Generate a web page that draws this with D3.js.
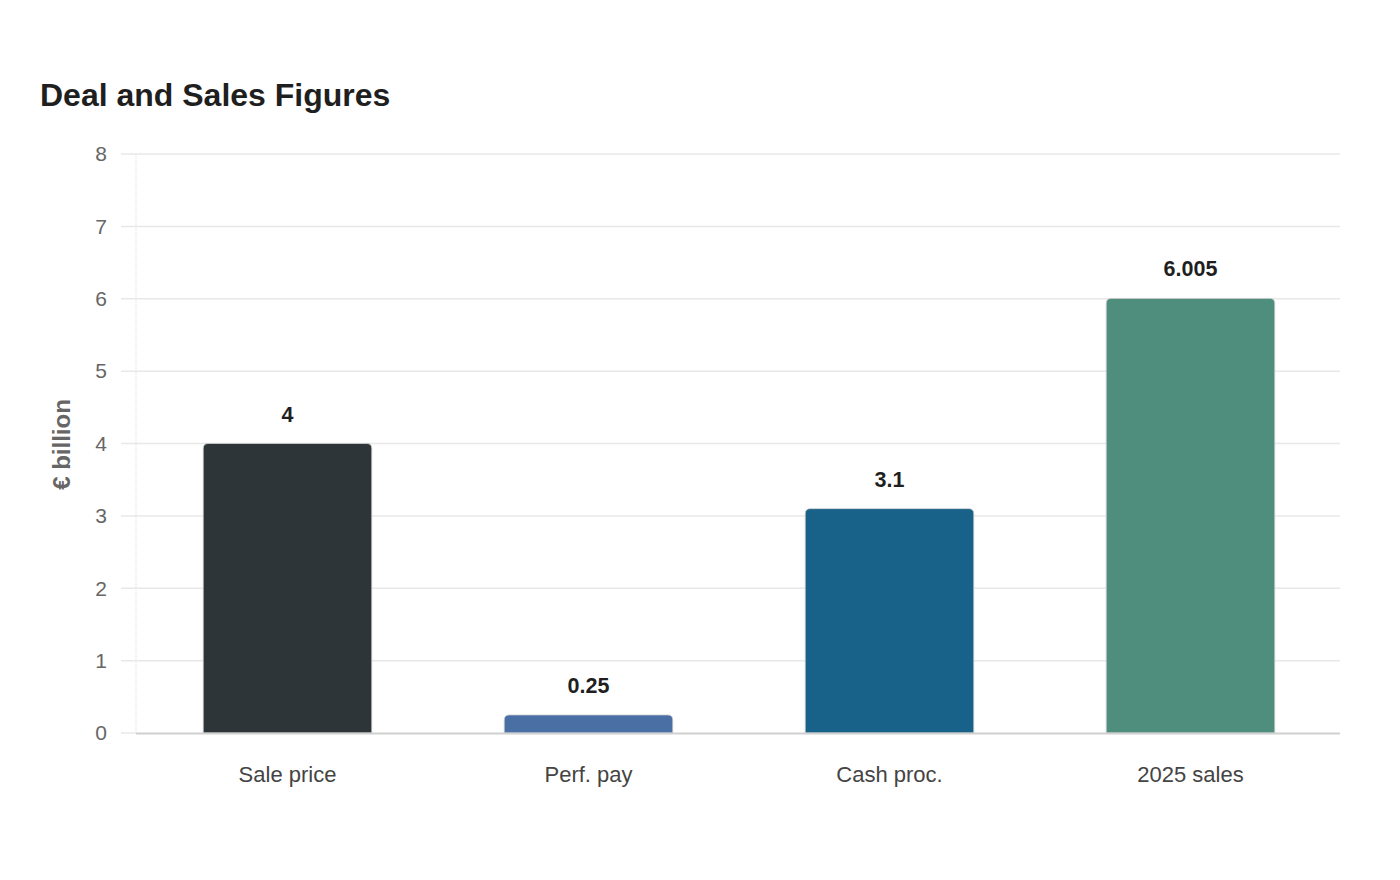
<!DOCTYPE html>
<html><head><meta charset="utf-8">
<script src="https://cdn.jsdelivr.net/npm/d3@7"></script>
<style>body{margin:0;background:#fff;font-family:"Liberation Sans",Arial,sans-serif;}</style>
</head><body>
<svg id="c" width="1400" height="880"></svg>
<script>
const categories = ["Sale price","Perf. pay","Cash proc.","2025 sales"];
const values = [4, 0.25, 3.1, 6.005];
const valueLabels = ["4","0.25","3.1","6.005"];
const colors = ["#2e3538","#4a6fa5","#186289","#4f8e7c"];
const yTicks = [0,1,2,3,4,5,6,7,8];

const svg = d3.select("#c");
const m = {left:136, right:1340, top:154, bottom:733};
const x = d3.scaleBand().domain(categories).range([m.left+1, m.right+1]).paddingInner(0.44).paddingOuter(0.22);
const y = d3.scaleLinear().domain([0,8]).range([m.bottom, m.top]);

svg.append("text").attr("x",40).attr("y",106).attr("font-size",32).attr("font-weight","bold").attr("fill","#1f1f1f").text("Deal and Sales Figures");

const g = svg.append("g");
g.selectAll("line.grid").data(yTicks.filter(d=>d>0)).enter().append("line")
 .attr("x1",121).attr("x2",m.right).attr("y1",d=>y(d)).attr("y2",d=>y(d))
 .attr("stroke","#e8e8e8").attr("stroke-width",1.5);
g.append("line").attr("x1",121).attr("x2",136).attr("y1",y(0)).attr("y2",y(0)).attr("stroke","#e8e8e8").attr("stroke-width",1.5);
g.append("line").attr("x1",m.left).attr("x2",m.left).attr("y1",m.top).attr("y2",m.bottom)
 .attr("stroke","#dddddd").attr("stroke-width",1).attr("stroke-dasharray","1,1");
g.selectAll("text.yt").data(yTicks).enter().append("text")
 .attr("x",107).attr("y",d=>y(d)).attr("dy","0.35em").attr("text-anchor","end")
 .attr("font-size",21).attr("fill","#666").text(d=>d);

svg.append("text").attr("transform",`translate(70,${(m.top+m.bottom)/2+1}) rotate(-90)`)
 .attr("text-anchor","middle").attr("font-size",24).attr("font-weight","bold").attr("fill","#666").text("€ billion");

function barPath(x0,y0,w,h,r){
  r=Math.min(r,h);
  return `M${x0},${y0+h}V${y0+r}Q${x0},${y0} ${x0+r},${y0}H${x0+w-r}Q${x0+w},${y0} ${x0+w},${y0+r}V${y0+h}Z`;
}
const data = categories.map((c,i)=>({c,v:values[i],l:valueLabels[i],col:colors[i]}));
svg.selectAll("path.bar").data(data).enter().append("path")
 .attr("d",d=>barPath(x(d.c),y(d.v),x.bandwidth(),y(0)-y(d.v),5))
 .attr("fill",d=>d.col).attr("stroke","#d0d0d0").attr("stroke-width",0.8);

svg.append("line").attr("x1",m.left).attr("x2",m.right).attr("y1",y(0)+0.5).attr("y2",y(0)+0.5).attr("stroke","#d0d0d0").attr("stroke-width",2);

svg.selectAll("text.vl").data(data).enter().append("text")
 .attr("x",d=>x(d.c)+x.bandwidth()/2).attr("y",d=>y(d.v)-22)
 .attr("text-anchor","middle").attr("font-size",21.5).attr("font-weight","bold").attr("fill","#1f1f1f").text(d=>d.l);

svg.selectAll("text.xl").data(categories).enter().append("text")
 .attr("x",d=>x(d)+x.bandwidth()/2).attr("y",782)
 .attr("text-anchor","middle").attr("font-size",22).attr("fill","#444").text(d=>d);
</script>
</body></html>
